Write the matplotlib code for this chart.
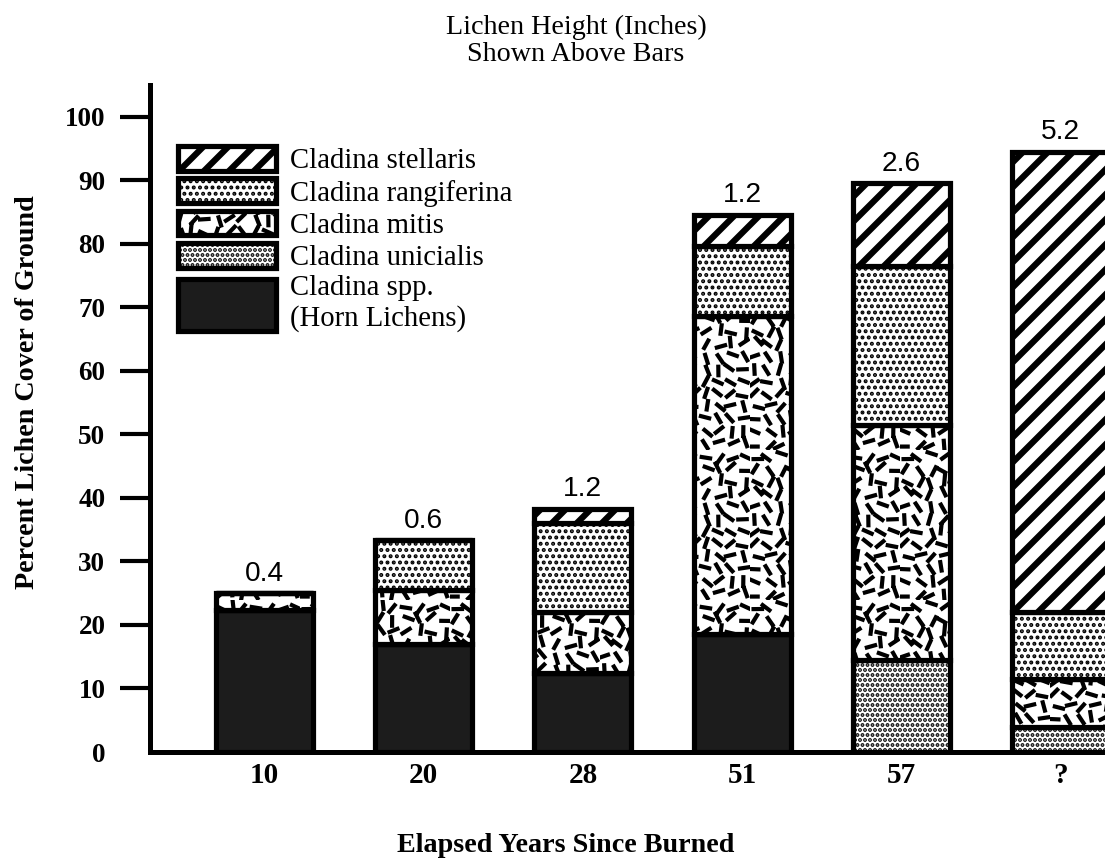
import numpy as np
import matplotlib
matplotlib.use("Agg")
import matplotlib.pyplot as plt
import matplotlib.hatch as mhatch
from matplotlib.path import Path
from matplotlib.patches import Rectangle
from matplotlib.legend_handler import HandlerPatch, update_from_first_child

#------------------------------------------#
# Data (percent cover, stacked bottom -> top)
years = ['10', '20', '28', '51', '57', '?']
heights = [0.4, 0.6, 1.2, 1.2, 2.6, 5.2]        # lichen height (inches)

spp         = [22.4, 17.0, 12.5, 18.6, 0.0, 0.0]
unicialis   = [0.0, 0.0, 0.0, 0.0, 14.5, 4.0]
mitis       = [2.6, 8.5, 9.5, 50.1, 37.0, 7.5]
rangiferina = [0.0, 7.8, 14.0, 11.0, 25.0, 10.5]
stellaris   = [0.0, 0.0, 2.3, 4.9, 13.0, 72.5]

names = ['Cladina spp.\n(Horn Lichens)', 'Cladina unicialis', 'Cladina mitis',
         'Cladina rangiferina', 'Cladina stellaris']
series = [spp, unicialis, mitis, rangiferina, stellaris]
#------------------------------------------#

#------------------------------------------#
# Short dashes at scattered angles for C. mitis (takes the place of the '*' hatch)
def _frac(v):
    return (np.sin(v) * 43758.5453) % 1.0

class DashHatch(mhatch.HatchPatternBase):
    def __init__(self, hatch, density):
        self.n = int(hatch.count('*') * density)
        self.num_vertices = 2 * self.n * self.n

    def set_vertices_and_codes(self, vertices, codes):
        n = self.n
        k = np.arange(n * n)
        cx = (k % n + 0.5 + 0.45 * (_frac(k * 12.9898) - 0.5)) / n
        cy = (k // n + 0.5 + 0.45 * (_frac(k * 78.233) - 0.5)) / n
        ang = np.pi * _frac(k * 39.3468)
        half = 0.34 / n
        dx = half * np.cos(ang)
        dy = half * np.sin(ang)
        vertices[0::2, 0] = cx - dx
        vertices[0::2, 1] = cy - dy
        vertices[1::2, 0] = cx + dx
        vertices[1::2, 1] = cy + dy
        codes[0::2] = Path.MOVETO
        codes[1::2] = Path.LINETO

mhatch._hatch_types[:] = [t for t in mhatch._hatch_types if t is not mhatch.Stars] + [DashHatch]
#------------------------------------------#

# styles: (face, hatch, hatch linewidth)
styles = [('#1c1c1c', None, 1.0),
          ('white', '.....', 1.3),
          ('white', '**', 2.0),
          ('white', '....', 1.3),
          ('white', '//', 3.0)]

plt.rcParams['font.family'] = 'Liberation Serif'

fig = plt.figure(figsize=(1105 / 150, 860 / 150), dpi=150)
ax = fig.add_axes([150 / 1105, 108 / 860, 1 - 150 / 1105, (752 - 85) / 860])

x = np.arange(len(years))
bottom = np.zeros(len(years))
containers = []
for vals, name, (fc, hatch, hlw) in zip(series, names, styles):
    bars = ax.bar(x, vals, 0.61, bottom=bottom, color=fc, edgecolor='black',
                  linewidth=2.5, hatch=hatch, label=name)
    for b in bars:
        b.set_hatch_linewidth(hlw)
    containers.append(bars)
    bottom = bottom + np.array(vals)

# heights above bars
ax.bar_label(containers[-1], labels=[str(h) for h in heights], padding=3,
             fontsize=13.5, family='Liberation Sans')

# axes
ax.set_xlim(-0.72, 5.28)
ax.set_ylim(0, 105)
ax.spines['top'].set_visible(False)
ax.spines['right'].set_visible(False)
ax.spines['left'].set_linewidth(2.4)
ax.spines['bottom'].set_linewidth(2.4)

ax.set_yticks(np.arange(0, 101, 10))
ax.tick_params(axis='y', length=14.4, width=2.0, pad=7, labelsize=13)
ax.yaxis.get_major_ticks()[0].tick1line.set_visible(False)
for lab in ax.get_yticklabels():
    lab.set_fontweight('bold')

ax.set_xticks(x)
ax.set_xticklabels(years, fontweight='bold', fontsize=14)
ax.tick_params(axis='x', length=0, pad=5)

# titles and labels
fig.text(576 / 1105, 1 - 41 / 860, 'Lichen Height (Inches)\nShown Above Bars',
         ha='center', va='center', fontsize=13.5, linespacing=1.1)
fig.text(28 / 1105, 1 - 392 / 860, 'Percent Lichen Cover of Ground', rotation=90,
         ha='center', va='center', fontsize=13.5, fontweight='bold')
fig.text(566 / 1105, 1 - 845 / 860, 'Elapsed Years Since Burned',
         ha='center', va='center', fontsize=13.5, fontweight='bold')

# legend (stellaris on top); the spp swatch spans both text lines
def tall_patch(legend, orig_handle, xdescent, ydescent, width, height, fontsize):
    return Rectangle((-xdescent, -ydescent - 0.6 * height), width, 2.1 * height)

handles = containers[::-1]
leg = fig.legend(handles, names[::-1], loc='upper left',
                 bbox_to_anchor=(178 / 1105, 1 - 146 / 860), bbox_transform=fig.transFigure,
                 frameon=False, fontsize=13.8, handlelength=3.4, handleheight=0.95,
                 handletextpad=0.5, labelspacing=0.14, borderpad=0, borderaxespad=0,
                 handler_map={containers[0]: HandlerPatch(patch_func=tall_patch,
                                                          update_func=update_from_first_child)})
# legend swatches do not copy the hatch width
for p, (fc, hatch, hlw) in zip(leg.get_patches(), styles[::-1]):
    p.set_hatch_linewidth(hlw)

fig.savefig('out.png', dpi=150)
